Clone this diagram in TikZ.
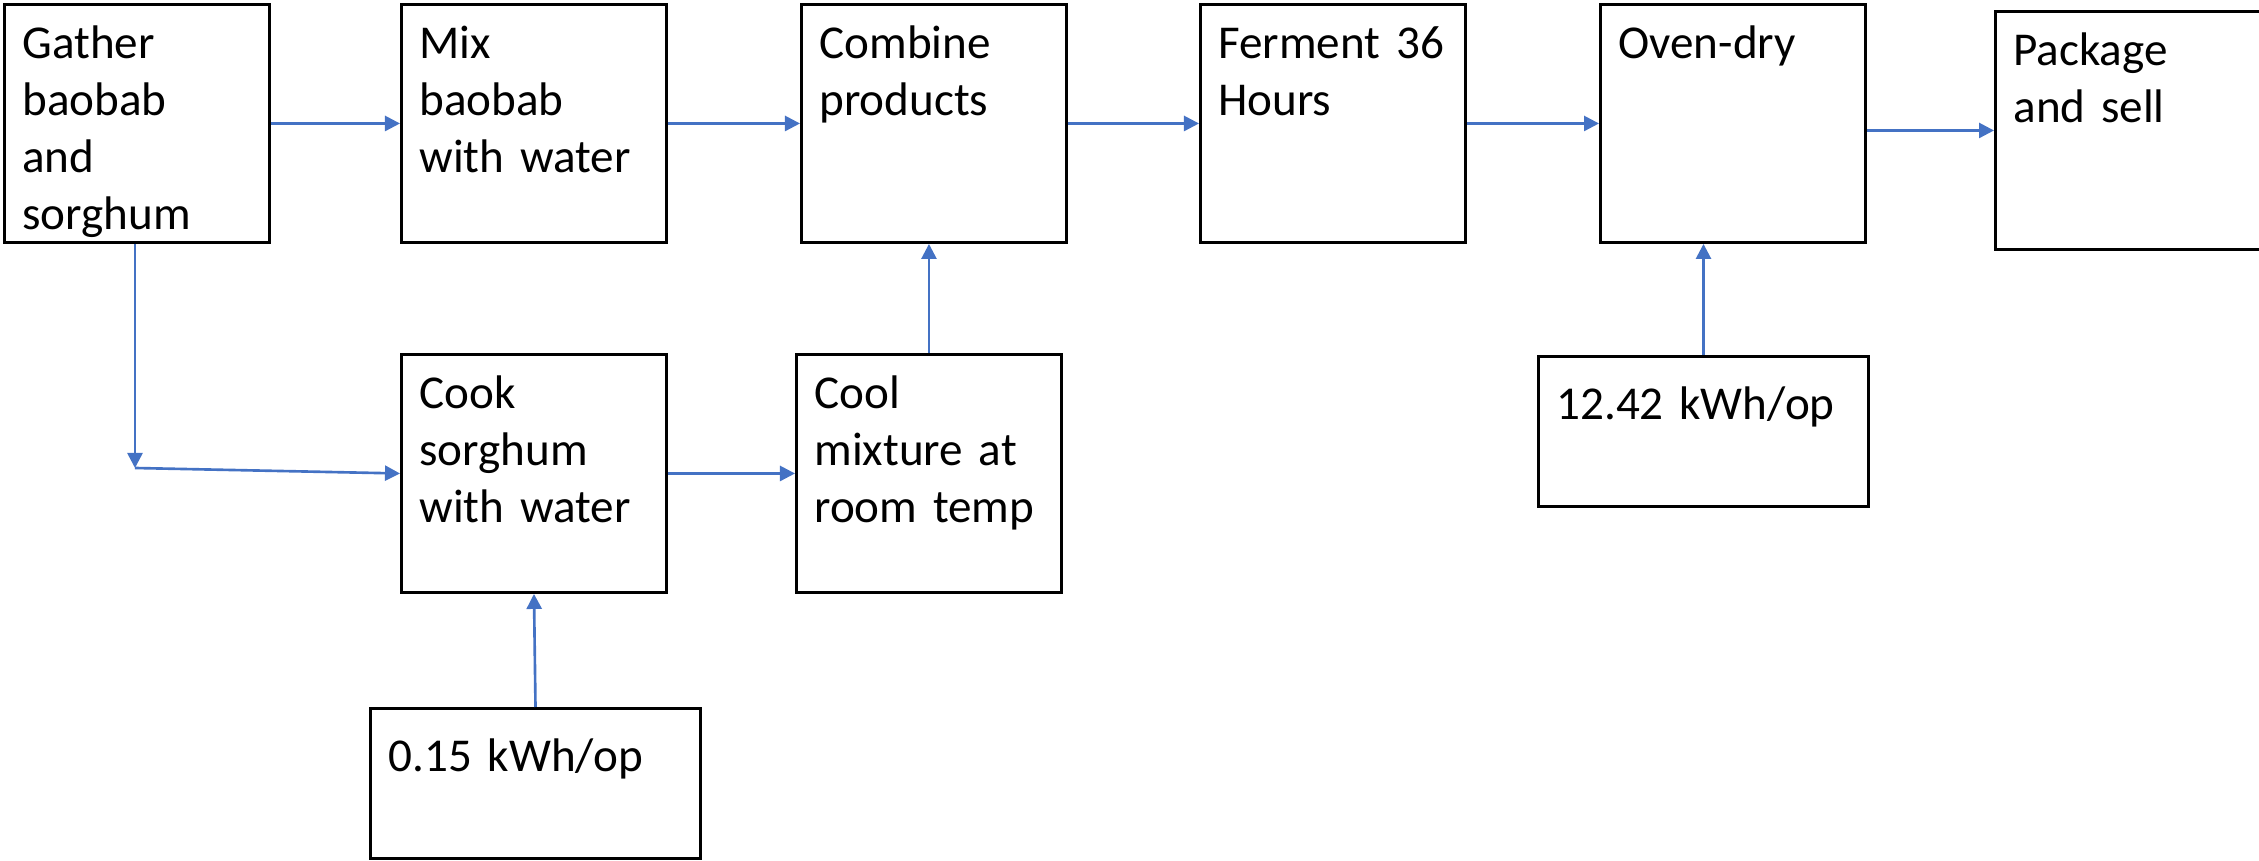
\documentclass[tikz,border=0pt]{standalone}
\usepackage{fontspec}
\setmainfont{Carlito}
\usetikzlibrary{arrows.meta}
\definecolor{flowblue}{RGB}{68,114,196}
\tikzset{
  stepbox/.style={draw=black,line width=0.8pt,anchor=north west,align=left,
    inner xsep=0.18cm,inner ysep=0pt,text width=2.29cm,
    text height=0.54cm,text depth=1.84cm,
    font=\fontsize{13.4pt}{16.2pt}\selectfont},
  energybox/.style={stepbox,text width=2.94cm,text height=0.63cm,text depth=0.87cm},
  flowarrow/.style={-{Triangle[length=0.15cm,width=0.15cm]},flowblue,line width=0.75pt}
}

\begin{document}
\begin{tikzpicture}[x=0.01cm,y=-0.01cm]
  \useasboundingbox (0,0) rectangle (2259,861);
  % main line of steps
  \node[stepbox] (gather) at (3,3) {Gather\\baobab\\and\\sorghum};
  \node[stepbox] (mix) at (400,3) {Mix\\baobab\\with water};
  \node[stepbox] (combine) at (800,3) {Combine\\products};
  \node[stepbox] (ferment) at (1199,3) {Ferment~36\\Hours};
  \node[stepbox] (ovendry) at (1599,3) {Oven-dry};
  \node[stepbox] (package) at (1994,10) {Package\\and sell};
  % sorghum branch
  \node[stepbox] (cook) at (400,353) {Cook\\sorghum\\with water};
  \node[stepbox] (cool) at (795,353) {Cool\\mixture at\\room temp};
  % energy inputs
  \node[energybox] (cookenergy) at (369,707) {0.15 kWh/op};
  \node[energybox] (dryenergy) at (1537,355) {12.42 kWh/op};
  \coordinate (bend) at (135,468);

  \draw[flowarrow] (gather.east) -- (mix.west);
  \draw[flowarrow] (mix.east) -- (combine.west);
  \draw[flowarrow] (combine.east) -- (ferment.west);
  \draw[flowarrow] (ferment.east) -- (ovendry.west);
  \draw[flowarrow] (ovendry.east |- package.west) -- (package.west);
  \draw[flowarrow] (gather.south -| bend) -- (bend);
  \draw[flowarrow] (bend) -- (cook.west);
  \draw[flowarrow] (cook.east) -- (cool.west);
  \draw[flowarrow] (cool.north) -- (cool.north |- combine.south);
  \draw[flowarrow] (cookenergy.north) -- (cook.south);
  \draw[flowarrow] (dryenergy.north) -- (dryenergy.north |- ovendry.south);
\end{tikzpicture}
\end{document}
